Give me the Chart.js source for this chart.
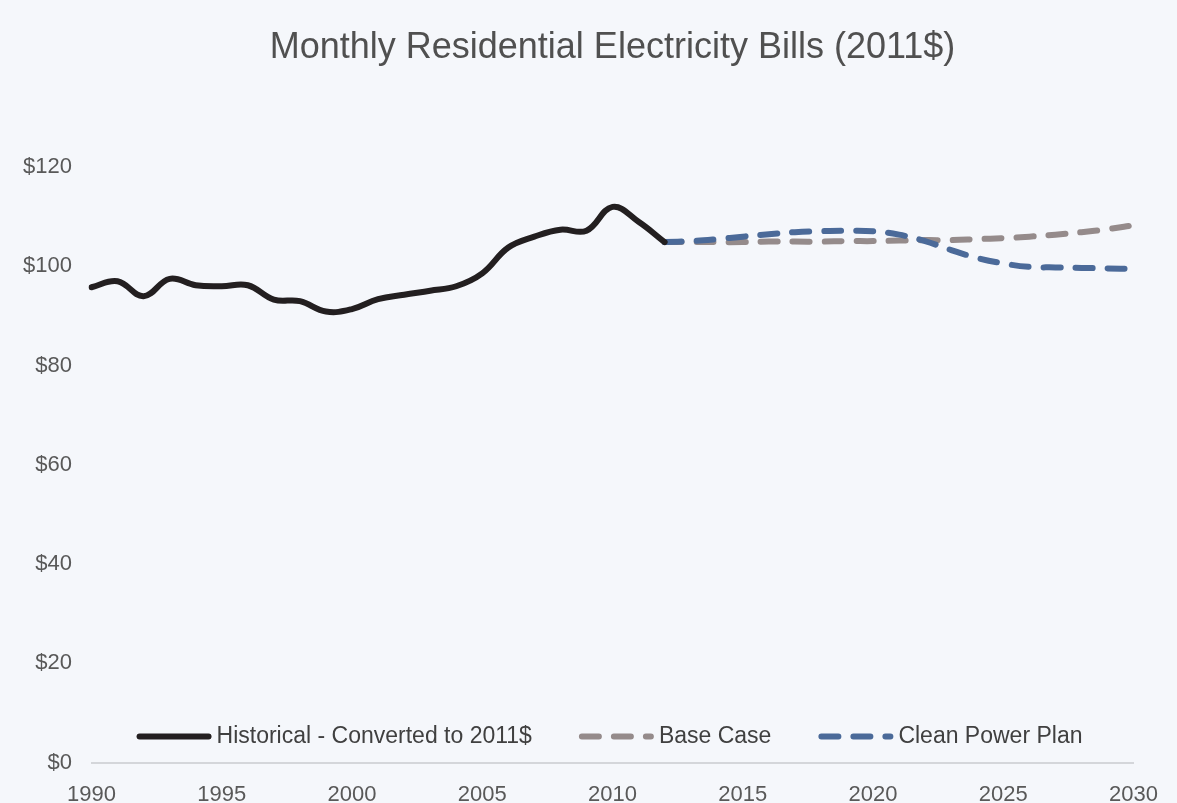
<!DOCTYPE html>
<html lang="en">
<head>
<meta charset="UTF-8">
<title>Monthly Residential Electricity Bills (2011$)</title>
<script src="https://cdn.jsdelivr.net/npm/chart.js"></script>
<style>
	body {
		margin: 0;
		padding: 0;
		background: #f5f7fb;
		overflow: hidden;
	}
	#chart {
		display: block;
		background: #f5f7fb;
	}
</style>
</head>
<body>
<canvas id="chart" width="1177" height="803"></canvas>
<script>
	// years on the x axis
	const years = [];
	for (let y = 1990; y <= 2030; y++) years.push(String(y));

	// historical bills 1990-2012
	const historical = [95.8, 97.0, 94.0, 97.5, 96.2, 96.0, 96.2, 93.3, 93.0, 90.9,
		91.4, 93.4, 94.3, 95.1, 96.0, 98.6, 103.8, 106.0, 107.4, 107.2,
		112.0, 109.0, 104.9];

	// projections 2012-2030
	const projectionStart = '2012';
	const baseCase = [104.9, 104.9, 104.9, 104.9, 105.0, 105.0, 105.0, 105.1, 105.1, 105.2,
		105.3, 105.3, 105.5, 105.7, 106.0, 106.4, 106.9, 107.5, 108.3];
	const cleanPowerPlan = [104.9, 105.1, 105.5, 106.0, 106.5, 106.9, 107.1, 107.2, 107.1, 106.4,
		105.1, 103.3, 101.7, 100.6, 99.9, 99.8, 99.7, 99.6, 99.5];

	const yTicks = [0, 20, 40, 60, 80, 100, 120];

	const offset = years.indexOf(projectionStart);
	const pad = Array(offset).fill(null);

	const fontFamily = '"Liberation Sans", Arial, sans-serif';
	const dash = [17, 15];

	// legend drawn inside the plot, just above the $0 line
	const insideLegend = {
		id: 'insideLegend',
		afterDraw(chart) {
			const ctx = chart.ctx;
			const area = chart.chartArea;
			const y = area.bottom - 26;
			const sample = 75, gap = 5, itemGap = 47;
			ctx.save();
			ctx.font = '23px ' + fontFamily;
			ctx.textBaseline = 'middle';
			const items = chart.data.datasets.map(ds => ({
				ds, w: sample + gap + ctx.measureText(ds.label).width
			}));
			const total = items.reduce((s, it) => s + it.w, 0) + itemGap * (items.length - 1);
			let x = (area.left + area.right) / 2 - total / 2 - 3;
			items.forEach(it => {
				ctx.beginPath();
				ctx.strokeStyle = it.ds.borderColor;
				ctx.lineWidth = it.ds.borderWidth;
				ctx.lineCap = 'round';
				ctx.setLineDash(it.ds.borderDash || []);
				ctx.moveTo(x + 3, y);
				ctx.lineTo(x + sample - 3, y);
				ctx.stroke();
				ctx.setLineDash([]);
				ctx.fillStyle = '#404040';
				ctx.textAlign = 'left';
				ctx.fillText(it.ds.label, x + sample + gap, y);
				x += it.w + itemGap;
			});
			ctx.restore();
		}
	};

	new Chart(document.getElementById('chart'), {
		type: 'line',
		data: {
			labels: years,
			datasets: [{
				label: 'Historical - Converted to 2011$',
				data: historical,
				borderColor: '#231f20',
				borderWidth: 6,
				borderCapStyle: 'round',
				tension: 0.4,
				pointRadius: 0,
				order: 0
			}, {
				label: 'Base Case',
				data: pad.concat(baseCase),
				borderColor: '#958b8b',
				borderWidth: 6,
				borderDash: dash,
				borderCapStyle: 'round',
				tension: 0.4,
				pointRadius: 0,
				order: 2
			}, {
				label: 'Clean Power Plan',
				data: pad.concat(cleanPowerPlan),
				borderColor: '#4b6a99',
				borderWidth: 6,
				borderDash: dash,
				borderCapStyle: 'round',
				tension: 0.4,
				pointRadius: 0,
				order: 1
			}]
		},
		options: {
			responsive: false,
			animation: false,
			layout: {
				padding: { left: 0, right: 20, top: 0, bottom: 0 }
			},
			plugins: {
				legend: { display: false },
				tooltip: { enabled: false },
				title: {
					display: true,
					fullSize: false,
					text: 'Monthly Residential Electricity Bills (2011$)',
					color: '#505050',
					font: { family: fontFamily, size: 36, weight: 'normal' },
					padding: { top: 26, bottom: 98 }
				}
			},
			scales: {
				x: {
					grid: { display: false, drawTicks: false },
					border: { display: true, color: '#d4d6da', width: 2 },
					ticks: {
						autoSkip: false,
						maxRotation: 0,
						padding: 19,
						color: '#595959',
						font: { family: fontFamily, size: 22 },
						callback: function (value) {
							const label = this.getLabelForValue(value);
							return Number(label) % 5 === 0 ? label : '';
						}
					},
					afterFit: scale => { scale.height = 40.5; }
				},
				y: {
					min: 0,
					max: 120,
					grid: { display: false, drawTicks: false },
					border: { display: false },
					afterBuildTicks: scale => { scale.ticks = yTicks.map(v => ({ value: v })); },
					ticks: {
						padding: 19.5,
						color: '#595959',
						font: { family: fontFamily, size: 22 },
						callback: v => '$' + v
					},
					afterFit: scale => { scale.width = 91.5; }
				}
			}
		},
		plugins: [insideLegend]
	});
</script>
</body>
</html>
